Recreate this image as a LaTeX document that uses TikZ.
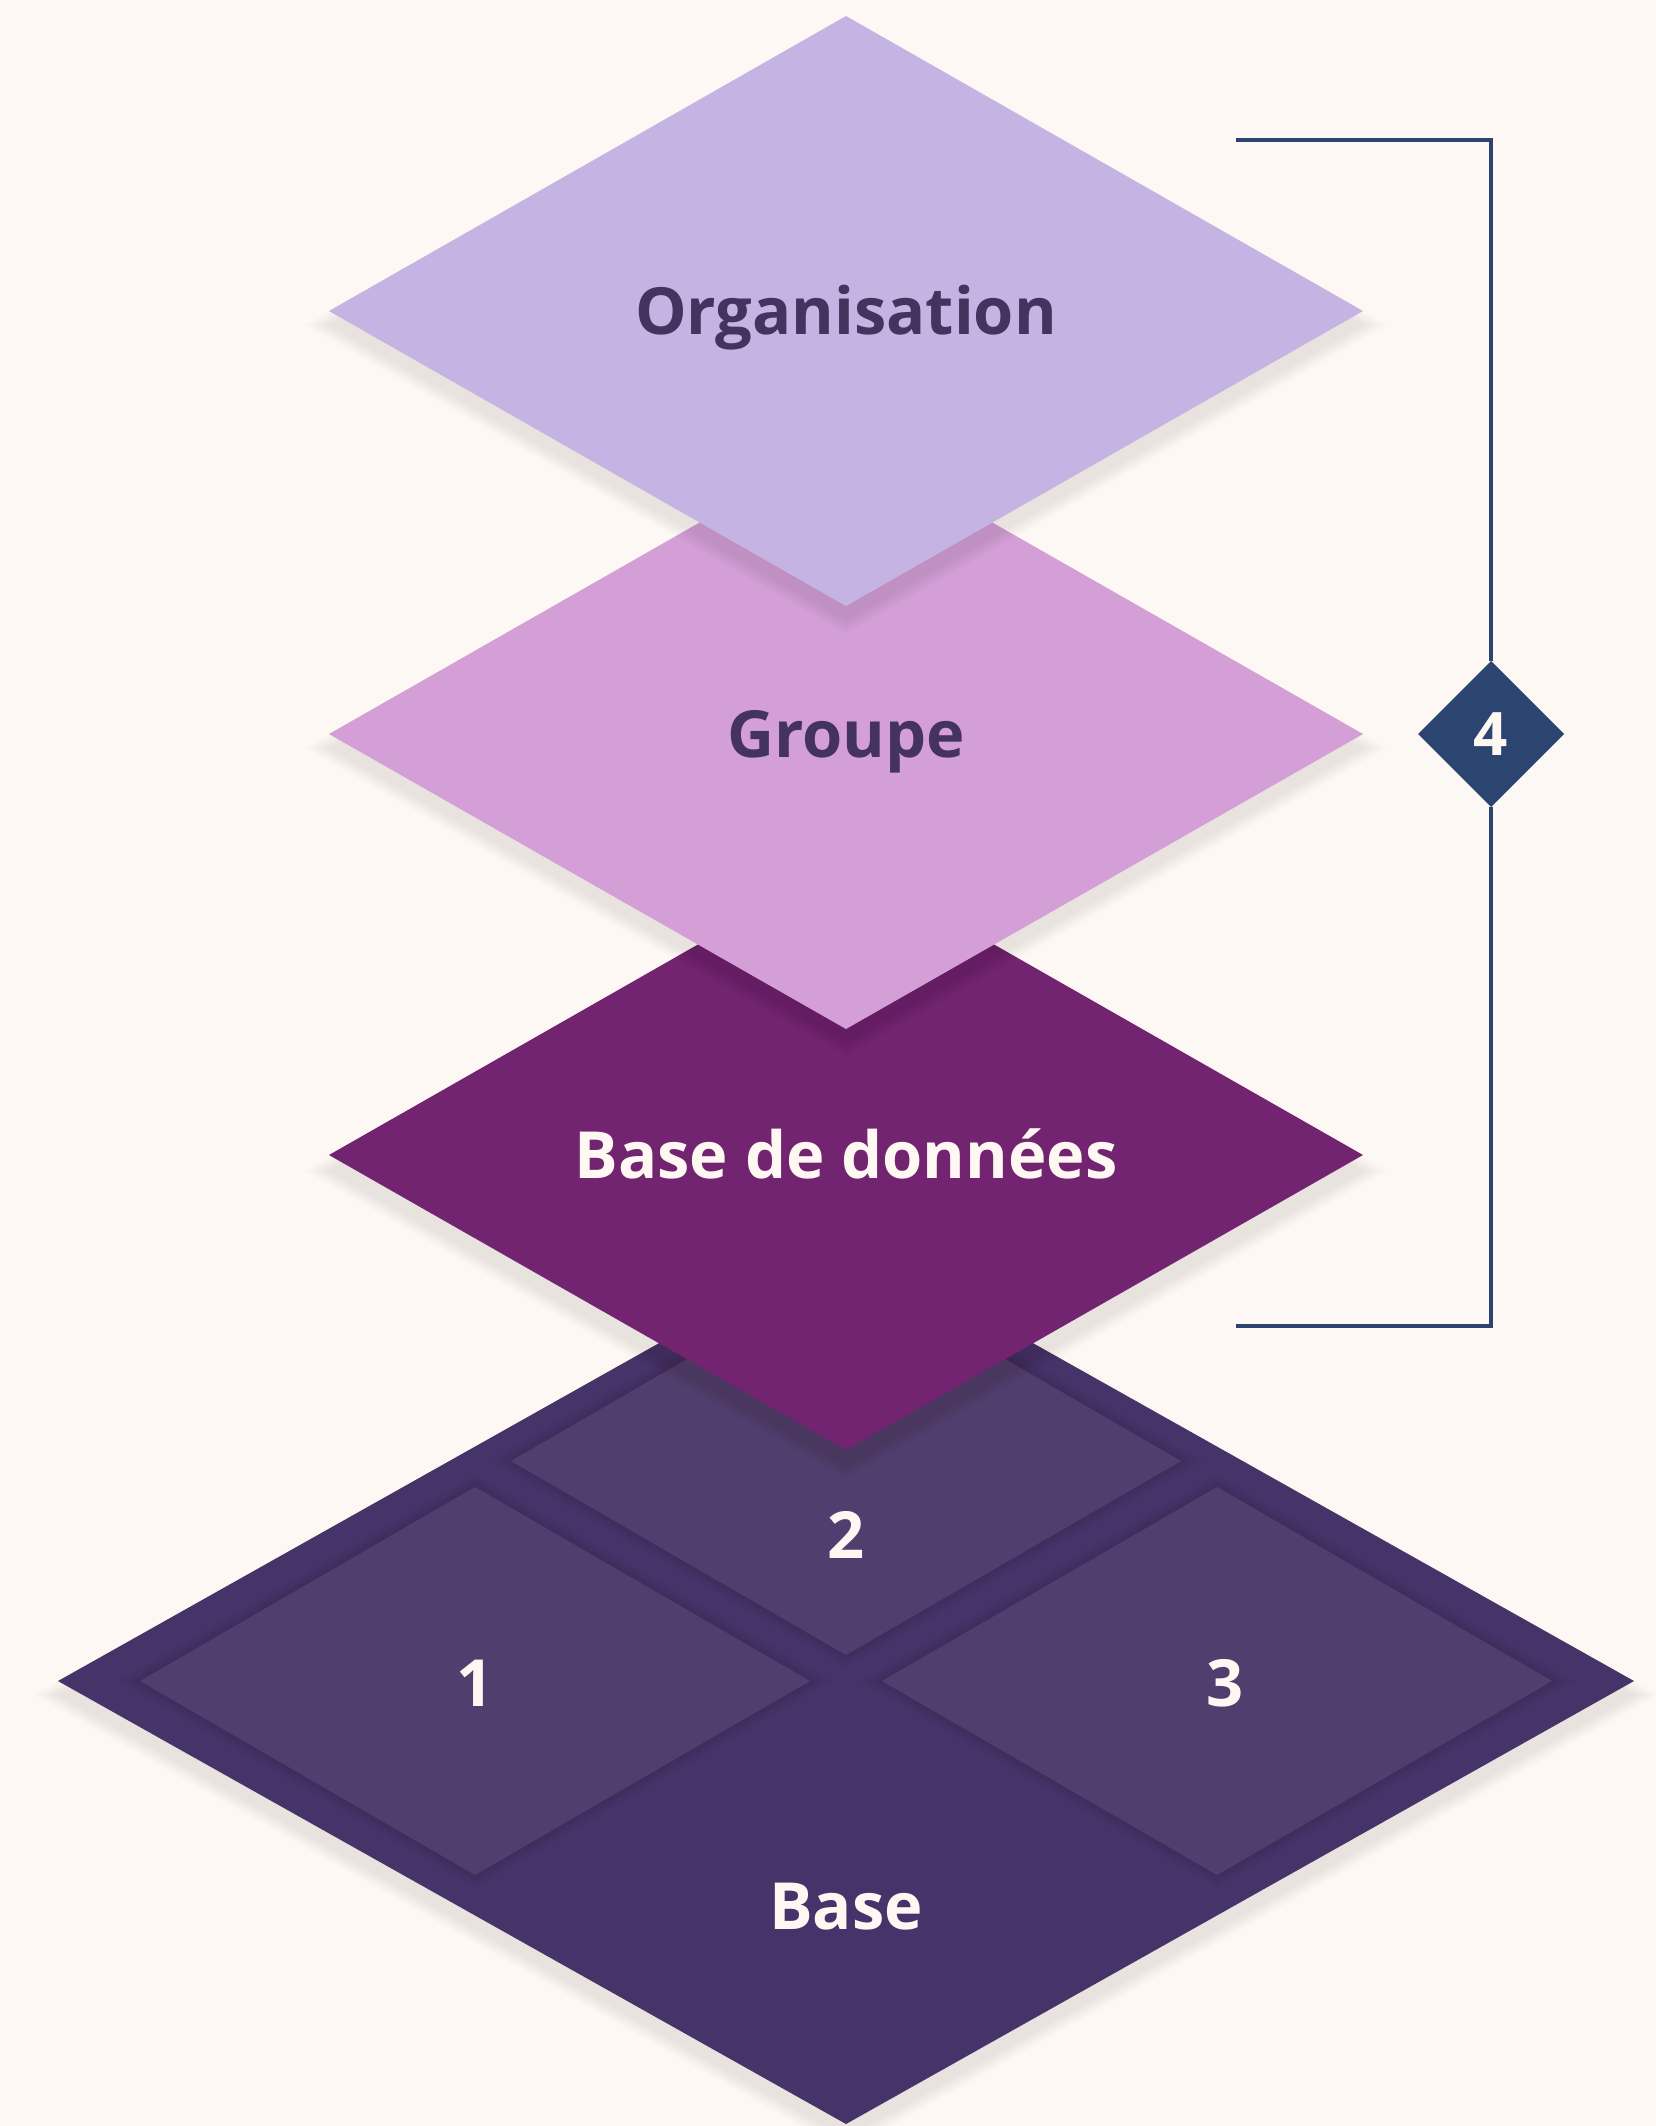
\documentclass[tikz,border=0pt]{standalone}
\usepackage{fontspec}
\setmainfont{Open Sans}
\usetikzlibrary{shapes.geometric}
\definecolor{bgc}{HTML}{FDF8F3}
\definecolor{orgc}{HTML}{C5B3E3}
\definecolor{grpc}{HTML}{D49ED6}
\definecolor{bddc}{HTML}{722470}
\definecolor{basec}{HTML}{46336A}
\definecolor{innerc}{HTML}{503E6E}
\definecolor{darktxt}{HTML}{44325F}
\definecolor{lighttxt}{HTML}{FFF8F2}
\definecolor{navy}{HTML}{2C4470}
\newcommand\dshadow[5]{% cx cy hw hh dy
  \foreach \s in {0,4,...,24}{
    \fill[black,opacity=0.011]
      ({#1-#3-\s},{#2+#5}) -- ({#1},{#2+#5+#4+0.57*\s}) --
      ({#1+#3+\s},{#2+#5}) -- ({#1},{#2+#5-#4-0.57*\s}) -- cycle;
  }}
\begin{document}
\begin{tikzpicture}[x=1pt,y=-1pt,
  lay/.style={shape=diamond,inner sep=0pt,outer sep=0pt,draw=none,
    minimum width=1034pt,minimum height=590pt},
  cell/.style={shape=diamond,inner sep=0pt,outer sep=0pt,draw=none,fill=innerc,
    minimum width=670pt,minimum height=388pt},
  lbl/.style={font=\fontsize{65}{78}\selectfont\bfseries,
    text height=46pt,text depth=0pt},
  bracket/.style={draw=navy,line width=4pt,line join=miter}]
\useasboundingbox (0,0) rectangle (1656,2126);
\fill[bgc] (0,0) rectangle (1656,2126);
% base
\dshadow{846}{1681}{788}{443}{14}
\node[shape=diamond,inner sep=0pt,outer sep=0pt,fill=basec,
  minimum width=1576pt,minimum height=886pt] (base) at (846,1681) {};
\foreach \cx/\cy in {475/1681,846/1461,1217/1681}{
  \dshadow{\cx}{\cy}{335}{194}{0}
}
\node[cell] (c1) at (475,1681) {};
\node[cell] (c2) at (846,1461) {};
\node[cell] (c3) at (1217,1681) {};
\node[lbl,text=lighttxt] (l1) at (475,1683) {1};
\node[lbl,text=lighttxt] (l2) at (846,1535) {2};
\node[lbl,text=lighttxt] (l3) at (1225,1683) {3};
\node[lbl,text=lighttxt] (lb) at (846,1906) {Base};
% base de donnees
\dshadow{846}{1157}{517}{295}{14}
\node[lay,fill=bddc,lbl,text=lighttxt] (bdd) at (846,1155) {Base de données};
% groupe
\dshadow{846}{734}{517}{295}{14}
\node[lay,fill=grpc,lbl,text=darktxt] (grp) at (846,734) {Groupe};
% organisation
\dshadow{846}{311}{517}{295}{14}
\node[lay,fill=orgc,lbl,text=darktxt] (org) at (846,311) {Organisation};
% bracket
\node[shape=diamond,inner sep=0pt,outer sep=0pt,fill=navy,text=lighttxt,
  minimum width=146pt,minimum height=146pt,
  font=\fontsize{60}{72}\selectfont\bfseries,text height=43pt,text depth=0pt] (badge) at (1491,734) {4};
\coordinate (bt) at (1236,140);
\coordinate (bb) at (1236,1326);
\draw[bracket] (bt) -| (badge.north);
\draw[bracket] (badge.south) |- (bb);
\end{tikzpicture}
\end{document}
